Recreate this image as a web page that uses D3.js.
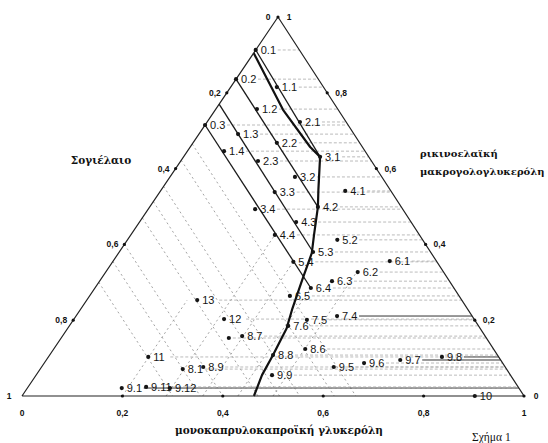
<!DOCTYPE html>
<html><head><meta charset="utf-8">
<script src="https://cdn.jsdelivr.net/npm/d3@7"></script>
<style>body{margin:0;background:#fff}svg{display:block}</style>
</head><body>
<svg id="c" width="548" height="443"></svg>
<script>
// ---- data (ternary: M = μονοκαπρυλοκαπροϊκή γλυκερόλη, R = ρικινοελαϊκή μακρογολογλυκερόλη, S = 1-M-R Σογιέλαιο)
const pointLabels = ["0.1","0.2","0.3","1.1","1.2","1.3","1.4","2.1","2.2","2.3","3.1","3.2","3.3","3.4","4.1","4.2","4.3","4.4","5.2","5.3","5.4","6.1","6.2","6.3","6.4","6.5","7.4","7.5","7.6","","8.7","8.6","8.8","8.1","8.9","9.9","9.5","9.6","9.7","9.8","10","9.1","9.11","9.12","11","12","13"];
const pointM = [0,0,0,0.092,0.082,0.078,0.073,0.185,0.167,0.154,0.272,0.249,0.229,0.213,0.368,0.335,0.312,0.287,0.418,0.386,0.360,0.551,0.502,0.463,0.430,0.399,0.520,0.465,0.436,0.334,0.358,0.501,0.445,0.284,0.322,0.470,0.582,0.637,0.705,0.784,0.902,0.188,0.235,0.284,0.199,0.299,0.220];
const pointR = [0.913,0.836,0.715,0.815,0.757,0.691,0.646,0.723,0.668,0.620,0.631,0.578,0.538,0.493,0.541,0.499,0.459,0.425,0.412,0.380,0.354,0.356,0.327,0.303,0.285,0.264,0.211,0.201,0.185,0.153,0.158,0.124,0.108,0.071,0.0765,0.055,0.0765,0.087,0.095,0.103,0,0.021,0.024,0.021,0.103,0.203,0.253];

const boundaryM = [0,0.135,0.239,0.272,0.313,0.335,0.365,0.385,0.402,0.422,0.436,0.445,0.450,0.462];
const boundaryR = [0.905,0.755,0.657,0.631,0.544,0.499,0.425,0.377,0.306,0.227,0.179,0.108,0.055,0];

const solidStartR = [0.913,0.836,0.77,0.715];
const solidEndM = [0.272,0.335,0.386,0.430];
const solidEndR = [0.631,0.499,0.380,0.285];

const dashedS = [0.335,0.378,0.447,0.487,0.53,0.60,0.645,0.70];
const dashedM = [0.2,0.287,0.36,0.43,0.50];
const dashedMTopR = [0.253,0.425,0.354,0.285,0.327];

const tickValues = [0.2,0.4,0.6,0.8];
const tickLabels = ["0,2","0,4","0,6","0,8"];
const darkRows = ["7.4","9.7","9.8","9.1"];

// ---- scales
const yR = d3.scaleLinear().domain([0,1]).range([396,17]);
const xM = d3.scaleLinear().domain([0,1]).range([22,524]);
const xRshift = d3.scaleLinear().domain([0,1]).range([0,256]);
const X = (m,r) => xM(m) + xRshift(r);
const Y = (m,r) => yR(r);

const svg = d3.select("#c");
const g = svg.append("g");
const line = d3.line().x(d=>X(d[0],d[1])).y(d=>Y(d[0],d[1]));

dashedS.forEach(s=>{
  g.append("path").attr("d", line([[0,1-s],[1-s,0]]))
   .attr("stroke","#999").attr("stroke-width",0.9).attr("stroke-dasharray","2,3").attr("fill","none");
});
dashedM.forEach((m,i)=>{
  g.append("path").attr("d", line([[m,0],[m,dashedMTopR[i]]]))
   .attr("stroke","#999").attr("stroke-width",0.9).attr("stroke-dasharray","2,3").attr("fill","none");
});
pointLabels.forEach((lab,i)=>{
  const r = pointR[i], m = pointM[i];
  if (r<=0) return;
  const dark = darkRows.includes(lab);
  const x0 = X(m,r) + (lab ? 22 : 4);
  const x1 = X(1-r,r);
  if (x1 <= x0) return;
  g.append("line").attr("x1",x0).attr("x2",x1).attr("y1",Y(m,r)).attr("y2",Y(m,r))
   .attr("stroke", dark ? "#333" : "#aaa").attr("stroke-width", dark?1:0.8)
   .attr("stroke-dasharray", dark ? null : "3,2");
});

solidStartR.forEach((r0,i)=>{
  g.append("path").attr("d", line([[0,r0],[solidEndM[i],solidEndR[i]]]))
   .attr("stroke","#1a1a1a").attr("stroke-width",1.3).attr("fill","none");
});

g.append("path").attr("d", line(boundaryM.map((m,i)=>[m,boundaryR[i]])))
 .attr("stroke","#111").attr("stroke-width",2.2).attr("fill","none").attr("stroke-linejoin","round");

g.append("path").attr("d", line([[0,0],[1,0],[0,1],[0,0]]))
 .attr("stroke","#222").attr("stroke-width",1.2).attr("fill","none");

const tk = g.append("g").attr("font-family","Liberation Sans, Arial, sans-serif").attr("font-size",8.5).attr("font-weight","bold").attr("fill","#111");
tickValues.forEach((v,i)=>{
  tk.append("circle").attr("cx",X(v,0)).attr("cy",Y(v,0)).attr("r",1.6);
  tk.append("text").attr("x",X(v,0)).attr("y",416).attr("text-anchor","middle").text(tickLabels[i]);
  tk.append("circle").attr("cx",X(0,1-v)).attr("cy",Y(0,1-v)).attr("r",1.6);
  tk.append("text").attr("x",X(0,1-v)-6).attr("y",Y(0,1-v)+3).attr("text-anchor","end").text(tickLabels[i]);
  tk.append("circle").attr("cx",X(1-v,v)).attr("cy",Y(1-v,v)).attr("r",1.6);
  tk.append("text").attr("x",X(1-v,v)+8).attr("y",Y(1-v,v)+3).attr("text-anchor","start").text(tickLabels[i]);
});
tk.append("circle").attr("cx",X(0,1)).attr("cy",Y(0,1)).attr("r",1.6);
tk.append("text").attr("x",X(0,1)-10).attr("y",Y(0,1)+3).attr("text-anchor","middle").text("0");
tk.append("text").attr("x",X(0,1)+11).attr("y",Y(0,1)+3).attr("text-anchor","middle").text("1");
tk.append("text").attr("x",X(0,0)-13).attr("y",Y(0,0)+3).attr("text-anchor","middle").text("1");
tk.append("text").attr("x",X(0,0)).attr("y",416).attr("text-anchor","middle").text("0");
tk.append("circle").attr("cx",X(1,0)).attr("cy",Y(1,0)).attr("r",1.6);
tk.append("text").attr("x",X(1,0)+12).attr("y",Y(1,0)+3).attr("text-anchor","middle").text("0");
tk.append("text").attr("x",X(1,0)).attr("y",416).attr("text-anchor","middle").text("1");

const pg = g.append("g").attr("font-family","Liberation Sans, Arial, sans-serif").attr("font-size",11).attr("fill","#151515");
pointLabels.forEach((lab,i)=>{
  const x = X(pointM[i],pointR[i]), y = Y(pointM[i],pointR[i]);
  pg.append("circle").attr("cx",x).attr("cy",y).attr("r",2.1);
  if (lab) pg.append("text").attr("x",x+5).attr("y",y+4).text(lab);
});

const tt = g.append("g").attr("font-family","DejaVu Serif, serif").attr("font-weight","bold").attr("font-size",10).attr("fill","#111");
tt.append("text").attr("x",101).attr("y",164).attr("text-anchor","middle").attr("font-size",10.5).text("Σογιέλαιο");
tt.append("text").attr("x",420).attr("y",157).text("ρικινοελαϊκή");
tt.append("text").attr("x",420).attr("y",175).text("μακρογολογλυκερόλη");
tt.append("text").attr("x",279).attr("y",434).attr("text-anchor","middle").attr("font-size",10.5).text("μονοκαπρυλοκαπροϊκή γλυκερόλη");
tt.append("text").attr("x",472).attr("y",441).attr("font-family","Liberation Serif, serif").attr("font-weight","normal").attr("font-size",11.5).text("Σχήμα 1");
</script>
</body></html>
